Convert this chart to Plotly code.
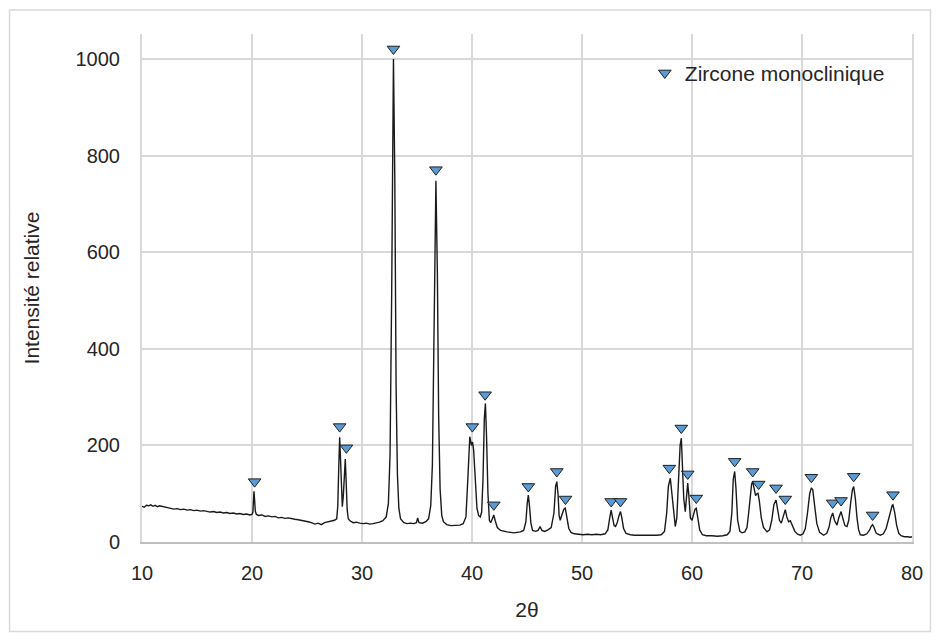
import plotly.graph_objects as go

# ---- X-ray diffraction scan (2θ, relative intensity) ----
two_theta = [
    10.0, 10.2, 10.4, 10.6, 10.8, 11.0, 11.2, 11.4, 11.6, 11.8,
    12.0, 12.3, 12.6, 12.9, 13.2, 13.5, 13.8, 14.1, 14.4, 14.7,
    15.0, 15.3, 15.6, 15.9, 16.2, 16.5, 16.8, 17.1, 17.4, 17.7,
    18.0, 18.3, 18.6, 18.9, 19.2, 19.5, 19.8, 20.0, 20.08, 20.13,
    20.18, 20.24, 20.3, 20.4, 20.6, 20.9, 21.2, 21.5, 21.8, 22.1,
    22.4, 22.7, 23.0, 23.3, 23.6, 23.9, 24.2, 24.5, 24.8, 25.1,
    25.4, 25.7, 26.0, 26.3, 26.6, 26.9, 27.2, 27.5, 27.7, 27.8,
    27.88, 27.97, 28.05, 28.13, 28.21, 28.3, 28.4, 28.48, 28.56, 28.65,
    28.75, 28.9, 29.2, 29.5, 29.8, 30.1, 30.4, 30.7, 31.0, 31.3,
    31.6, 31.9, 32.2, 32.4, 32.55, 32.7, 32.86, 32.98, 33.1, 33.22,
    33.35, 33.5, 33.8, 34.1, 34.4, 34.7, 34.95, 35.06, 35.18, 35.5,
    35.8, 36.05, 36.25, 36.4, 36.55, 36.72, 36.85, 36.97, 37.1, 37.25,
    37.4, 37.7, 38.1, 38.5, 38.9, 39.2, 39.45, 39.62, 39.72, 39.8,
    39.95, 40.05, 40.15, 40.3, 40.45, 40.6, 40.75, 40.88, 41.0, 41.12,
    41.22, 41.32, 41.45, 41.58, 41.7, 41.85, 41.98, 42.1, 42.3, 42.6,
    42.9, 43.2, 43.5, 43.8, 44.1, 44.4, 44.7, 44.9, 45.02, 45.12,
    45.22, 45.35, 45.5, 45.8, 46.0, 46.19, 46.35, 46.6, 46.9, 47.2,
    47.45, 47.6, 47.71, 47.82, 47.92, 48.02, 48.2, 48.35, 48.48, 48.62,
    48.8, 49.0, 49.3, 49.7, 50.1, 50.5, 50.9, 51.3, 51.7, 52.1,
    52.35, 52.52, 52.65, 52.78, 52.92, 53.05, 53.2, 53.37, 53.5, 53.62,
    53.78, 54.0, 54.4, 54.8, 55.2, 55.6, 56.0, 56.4, 56.8, 57.2,
    57.5, 57.7, 57.85, 58.03, 58.15, 58.3, 58.48, 58.62, 58.78, 58.92,
    59.03, 59.13, 59.25, 59.39, 59.5, 59.61, 59.72, 59.85, 60.0, 60.15,
    60.28, 60.39, 60.52, 60.7, 60.95, 61.3, 61.8, 62.3, 62.8, 63.2,
    63.45, 63.62, 63.75, 63.88, 64.0, 64.15, 64.35, 64.55, 64.8, 65.0,
    65.15, 65.3, 65.42, 65.52, 65.65, 65.78, 65.9, 66.0, 66.12, 66.3,
    66.5, 66.82, 67.05, 67.25, 67.45, 67.64, 67.8, 67.95, 68.12, 68.25,
    68.38, 68.48, 68.62, 68.78, 68.94, 69.1, 69.35, 69.6, 69.85, 70.1,
    70.3, 70.5, 70.7, 70.85, 70.98, 71.15, 71.35, 71.6, 71.97, 72.25,
    72.45, 72.62, 72.79, 72.95, 73.18, 73.32, 73.45, 73.55, 73.7, 73.9,
    74.09, 74.25, 74.42, 74.58, 74.7, 74.85, 75.0, 75.15, 75.3, 75.6,
    75.9, 76.15, 76.3, 76.42, 76.55, 76.75, 77.12, 77.4, 77.65, 77.85,
    78.05, 78.2, 78.27, 78.42, 78.6, 78.8, 79.0, 79.3, 79.6, 79.85,
    80.0,
]
intensity = [
    74, 72, 76, 75, 77, 74, 76, 73, 75, 74,
    72, 71, 70, 68, 69, 67, 68, 66, 67, 65,
    66, 64, 65, 63, 62, 63, 61, 62, 60, 61,
    59, 60, 58, 59, 57, 58, 56, 57, 62, 84,
    105, 86, 64, 57, 55, 56, 53, 54, 52, 53,
    50, 51, 49, 50, 48, 47, 46, 45, 43, 42,
    40, 37, 39, 36, 40, 42, 43, 45, 48, 75,
    150, 217, 170, 95, 73, 95, 150, 172, 125, 68,
    48, 44, 40, 41, 39, 38, 39, 37, 38, 39,
    41, 44, 52, 80, 180, 520, 1000, 760, 320, 140,
    70, 48, 40, 38, 39, 38, 40, 50, 40, 39,
    42, 48, 75, 160, 460, 748, 560, 260, 110, 55,
    42, 36, 34, 34, 35, 38, 52, 130, 205, 218,
    200, 207, 190, 120, 70, 55, 52, 62, 130, 255,
    287, 220, 100, 45, 40, 48, 56, 45, 30, 24,
    22, 21, 20, 19, 20, 21, 24, 42, 80, 97,
    76, 40, 24, 22, 24, 32, 24, 22, 25, 30,
    60, 115, 125, 100, 55, 45, 58, 68, 70, 50,
    28, 20, 17, 16, 15, 16, 15, 16, 15, 17,
    25, 50, 66, 50, 34, 32, 40, 55, 63, 50,
    28, 18, 15, 14, 14, 13, 14, 13, 14, 15,
    22, 60, 115, 132, 105, 60, 32, 50, 120, 200,
    215, 170, 90, 63, 100, 122, 95, 50, 45, 55,
    68, 70, 50, 25, 15, 13, 13, 12, 13, 15,
    22, 60, 130, 146, 110, 45, 22, 19, 21, 30,
    60, 100, 120, 125, 110, 96, 100, 101, 85, 50,
    30, 21, 25, 45, 78, 87, 65, 45, 39, 50,
    64, 67, 52, 42, 44, 35, 22, 16, 14, 17,
    28, 60, 100, 112, 108, 75, 38, 20, 14, 18,
    30, 50, 60, 45, 35, 48, 60, 63, 50, 34,
    32, 45, 80, 108, 115, 90, 50, 25, 15, 14,
    17, 25, 33, 36, 30, 18, 14, 17, 28, 45,
    65, 76, 77, 62, 35, 18, 13, 11, 11, 10,
    11,
]

# ---- Marker series: monoclinic zirconia reflections ----
peak_two_theta = [20.24, 27.97, 28.58, 32.86, 36.72, 40.03, 41.19, 41.98, 45.12, 47.71,
                  48.5, 52.65, 53.5, 57.94, 59.03, 59.61, 60.39, 63.88, 65.52, 66.06,
                  67.64, 68.48, 70.85, 72.79, 73.55, 74.7, 76.42, 78.27]
peak_marker = [125, 239, 195, 1021, 771, 239, 305, 77, 115, 146,
               89, 84, 84, 153, 236, 141, 91, 167, 146, 120,
               112, 89, 134, 81, 86, 136, 56, 98]

series_name = "Zircone monoclinique"
x_title = "2θ"
y_title = "Intensité relative"
x_ticks = [10, 20, 30, 40, 50, 60, 70, 80]
y_ticks = [0, 200, 400, 600, 800, 1000]

assert len(two_theta) == len(intensity)

FONT = "Liberation Sans, Arial, sans-serif"
TXT = "#262626"
GRID = "#d9d9d9"

fig = go.Figure()
fig.add_trace(go.Scatter(
    x=two_theta, y=intensity, mode="lines",
    line=dict(color="#1a1a1a", width=1.4),
    showlegend=False, hoverinfo="skip",
))
fig.add_trace(go.Scatter(
    x=peak_two_theta, y=peak_marker, mode="markers", name=series_name,
    marker=dict(symbol="triangle-down", size=11, color="#5b9bd5",
                line=dict(color="#1f1f1f", width=1)),
))

# the page body adds an 8px offset, so the figure is 8px smaller and margins compensate
fig.update_layout(
    width=932, height=635,
    margin=dict(l=134, r=28, t=26, b=101),
    paper_bgcolor="white", plot_bgcolor="white",
    font=dict(family=FONT, size=20, color=TXT),
    legend=dict(x=0.653, y=0.963, xanchor="left", yanchor="top",
                bgcolor="rgba(0,0,0,0)", font=dict(size=21, color=TXT),
                itemsizing="trace"),
    shapes=[dict(type="rect", xref="paper", yref="paper",
                 x0=-0.172, x1=1.024, y0=-0.176, y1=1.047,
                 line=dict(color="#d9d9d9", width=1.5), fillcolor="rgba(0,0,0,0)",
                 layer="below")],
)
fig.update_xaxes(
    range=[10, 80], tickvals=x_ticks, ticktext=[str(v) for v in x_ticks],
    showgrid=True, gridcolor=GRID, gridwidth=2,
    showline=True, linecolor="#bfbfbf", linewidth=2,
    zeroline=False, ticks="", ticklabelstandoff=12,
    tickfont=dict(size=20, color=TXT),
    title=dict(text=x_title, font=dict(size=21, color=TXT), standoff=19),
)
fig.update_yaxes(
    range=[0, 1052], tickvals=y_ticks, ticktext=[str(v) for v in y_ticks],
    showgrid=True, gridcolor=GRID, gridwidth=2,
    showline=True, linecolor=GRID, linewidth=2, mirror=True,
    zeroline=False, ticks="", ticklabelstandoff=16,
    tickfont=dict(size=20, color=TXT),
    title=dict(text=y_title, font=dict(size=21, color=TXT), standoff=30),
)

fig.write_html("out.html")
